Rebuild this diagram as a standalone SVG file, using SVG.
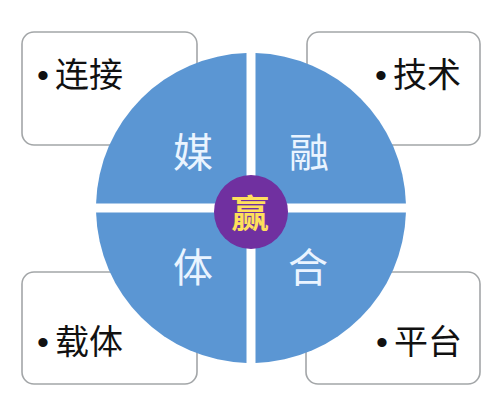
<svg xmlns="http://www.w3.org/2000/svg" width="500" height="411" viewBox="0 0 500 411">
<style>
.box{fill:#ffffff;stroke:#a3a6a8;stroke-width:1.6}
.bt{font-family:"Noto Sans CJK SC","Noto Sans",sans-serif;font-size:34px;fill:#111111}
.b{font-family:"Liberation Sans",sans-serif}
.q{fill:#5b96d3}
.ql{font-family:"Noto Sans CJK SC",sans-serif;font-size:40px;fill:#eaf4ff;text-anchor:middle}
.win{font-family:"Noto Sans CJK SC",sans-serif;font-size:38px;font-weight:bold;fill:#ffe05c;text-anchor:middle}
</style>
<rect width="500" height="411" fill="#ffffff"/>
<g id="box-lianjie"><rect class="box" x="22" y="32" width="175" height="113" rx="12"/><text class="bt" x="37" y="87"><tspan class="b">•</tspan><tspan dx="6">连接</tspan></text></g>
<g id="box-jishu"><rect class="box" x="307" y="32" width="173" height="113" rx="12"/><text class="bt" x="375" y="87"><tspan class="b">•</tspan><tspan dx="6">技术</tspan></text></g>
<g id="box-zaiti"><rect class="box" x="22" y="272" width="175" height="112" rx="12"/><text class="bt" x="37" y="354"><tspan class="b">•</tspan><tspan dx="6">载体</tspan></text></g>
<g id="box-pingtai"><rect class="box" x="306" y="272" width="174" height="112" rx="12"/><text class="bt" x="376" y="354"><tspan class="b">•</tspan><tspan dx="6">平台</tspan></text></g>
<g id="q-mei"><path class="q" d="M246.5,203.5 V53.07 A155,155 0 0 0 96.07,203.5 Z"/><text class="ql" x="193" y="167">媒</text></g>
<g id="q-rong"><path class="q" d="M255.5,203.5 V53.07 A155,155 0 0 1 405.93,203.5 Z"/><text class="ql" x="309" y="167">融</text></g>
<g id="q-ti"><path class="q" d="M246.5,212.5 V362.93 A155,155 0 0 1 96.07,212.5 Z"/><text class="ql" x="193" y="282">体</text></g>
<g id="q-he"><path class="q" d="M255.5,212.5 V362.93 A155,155 0 0 0 405.93,212.5 Z"/><text class="ql" x="308" y="282">合</text></g>
<g id="center-ying"><circle cx="251" cy="212" r="37" fill="#7030a0"/><text class="win" x="250" y="227">赢</text></g>
</svg>
